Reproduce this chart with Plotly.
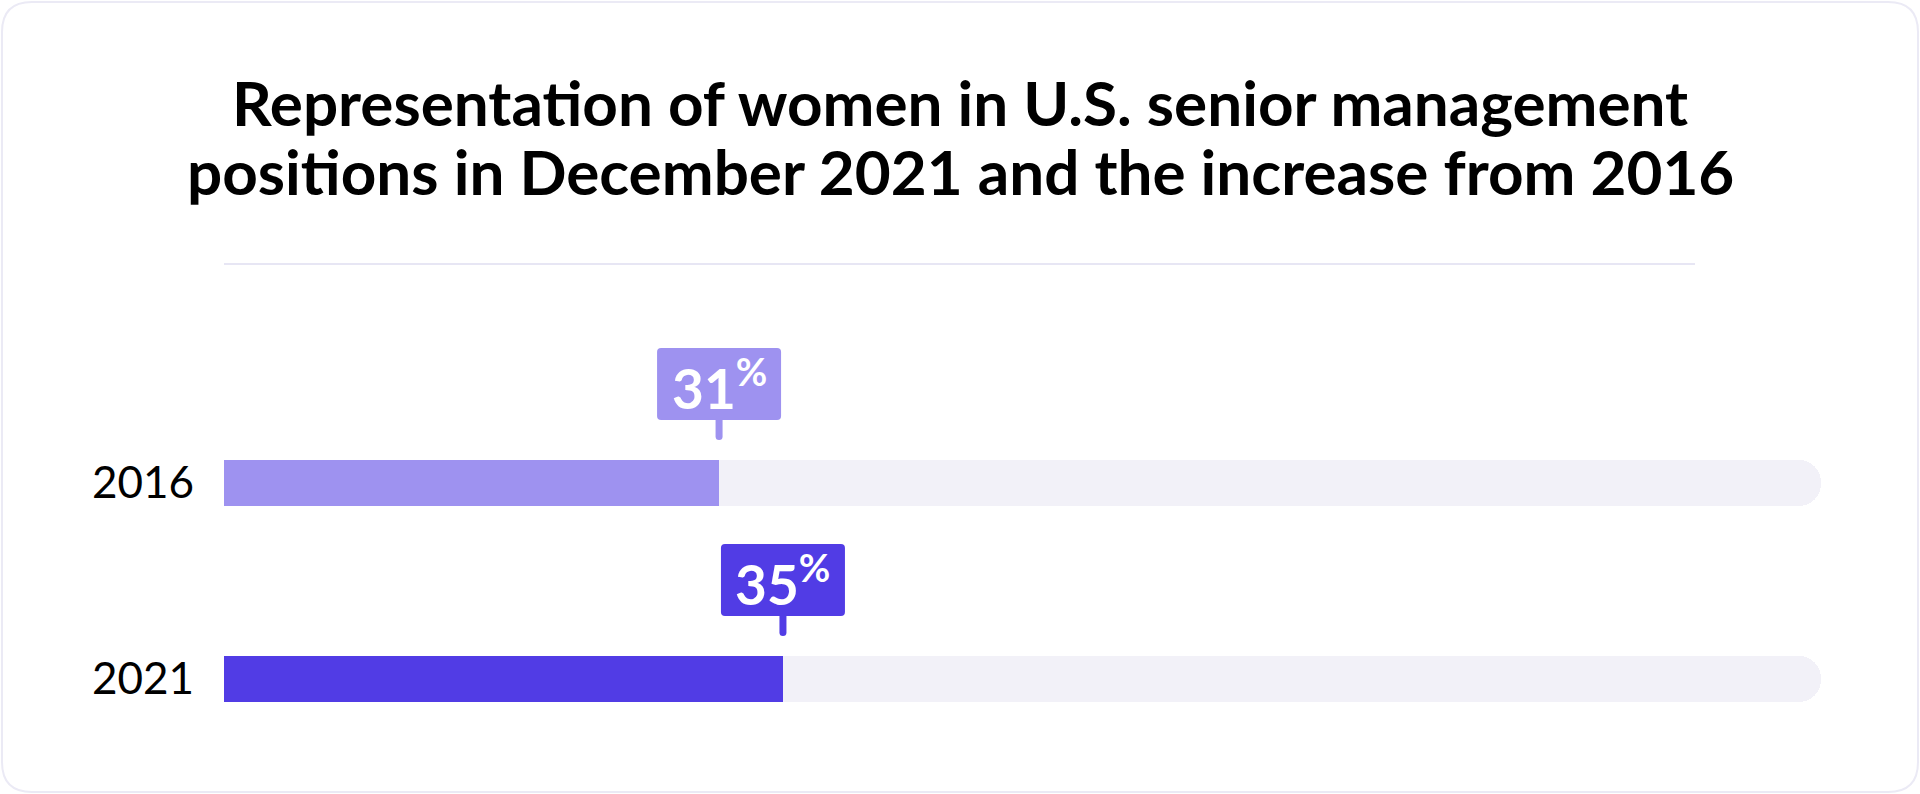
import plotly.graph_objects as go

# ---- data ----
years = ["2016", "2021"]
shares = [31, 35]
full_scale = [100, 100]
bar_colors = ["#9e92f0", "#513ce5"]
track_color = "#f2f1f8"
title_lines = [
    "Representation of women in U.S. senior management",
    "positions in December 2021 and the increase from 2016",
]

W, H = 1920, 794
L, R, T, B = 224, 1821, 285, 777  # plot area in pixels
UNIT = 196  # pixels per category step
FONT = "Lato"


def px(xp):
    return (xp - L) / (R - L)


def py(yp):
    return (B - yp) / (B - T)


fig = go.Figure()
fig.add_bar(y=years, x=full_scale, orientation="h", width=0.23,
            marker=dict(color=track_color, cornerradius=22, line_width=0),
            hoverinfo="skip", showlegend=False)
fig.add_bar(y=years, x=shares, orientation="h", width=0.23,
            marker=dict(color=bar_colors, line_width=0),
            hoverinfo="skip", showlegend=False)

shapes = []


def rrect(x0, y0, x1, y1, r):
    return (f"M{x0+r},{y0} L{x1-r},{y0} Q{x1},{y0} {x1},{y0+r} "
            f"L{x1},{y1-r} Q{x1},{y1} {x1-r},{y1} L{x0+r},{y1} "
            f"Q{x0},{y1} {x0},{y1-r} L{x0},{y0+r} Q{x0},{y0} {x0+r},{y0} Z")


annotations = []
for idx, (yr, val, col) in enumerate(zip(years, shares, bar_colors)):
    # callout box
    shapes.append(dict(type="path", xref="x", yref="y", xsizemode="pixel", ysizemode="pixel",
                       xanchor=val, yanchor=idx, path=rrect(-62, 63, 62, 135, 4),
                       fillcolor=col, line=dict(width=0), layer="above"))
    # stem
    shapes.append(dict(type="path", xref="x", yref="y", xsizemode="pixel", ysizemode="pixel",
                       xanchor=val, yanchor=idx,
                       path="M-3.5,64 L3.5,64 L3.5,46.5 Q3.5,43 0,43 Q-3.5,43 -3.5,46.5 Z",
                       fillcolor=col, line=dict(width=0), layer="above"))
    annotations.append(dict(x=val, y=idx, xref="x", yref="y", yshift=99, showarrow=False,
                            text=f"<b>{val}<sup>%</sup></b>",
                            font=dict(family=FONT, size=55, color="white"),
                            xanchor="center", yanchor="middle"))

# card border
cx0, cy0, cx1, cy1, cr = 2, 2, 1918, 792, 30
card_path = (f"M{px(cx0+cr)},{py(cy0)} L{px(cx1-cr)},{py(cy0)} Q{px(cx1)},{py(cy0)} {px(cx1)},{py(cy0+cr)} "
             f"L{px(cx1)},{py(cy1-cr)} Q{px(cx1)},{py(cy1)} {px(cx1-cr)},{py(cy1)} "
             f"L{px(cx0+cr)},{py(cy1)} Q{px(cx0)},{py(cy1)} {px(cx0)},{py(cy1-cr)} "
             f"L{px(cx0)},{py(cy0+cr)} Q{px(cx0)},{py(cy0)} {px(cx0+cr)},{py(cy0)} Z")
shapes.append(dict(type="path", xref="paper", yref="paper", path=card_path,
                   line=dict(color="#ebeaf5", width=2), fillcolor="rgba(0,0,0,0)", layer="below"))
# separator
shapes.append(dict(type="line", xref="paper", yref="paper", x0=px(224), x1=px(1695),
                   y0=py(264), y1=py(264), line=dict(color="#e7e6f4", width=2)))

for line, yc in zip(title_lines, [102, 171]):
    annotations.append(dict(x=px(960), y=py(yc), xref="paper", yref="paper", showarrow=False,
                            text=f"<b>{line}</b>", xanchor="center", yanchor="middle",
                            font=dict(family=FONT, size=62, color="#000000")))

y_top = -0.5 - (385 - T) / UNIT

fig.update_layout(
    width=W, height=H,
    margin=dict(l=L, r=W - R, t=T, b=H - B, autoexpand=False),
    paper_bgcolor="white", plot_bgcolor="rgba(0,0,0,0)",
    barmode="overlay", bargap=0,
    font=dict(family=FONT, color="#000000"),
    xaxis=dict(range=[0, 100], visible=False, fixedrange=True),
    yaxis=dict(type="category", range=[1.5, y_top], showgrid=False, zeroline=False, ticks="",
               showline=False, tickfont=dict(family=FONT, size=44, color="#000000"),
               ticklabelstandoff=29, automargin=False, fixedrange=True),
    shapes=shapes, annotations=annotations,
)

fig.write_html("out.html", config={"displayModeBar": False},
               post_script="document.body.style.margin='0';")
